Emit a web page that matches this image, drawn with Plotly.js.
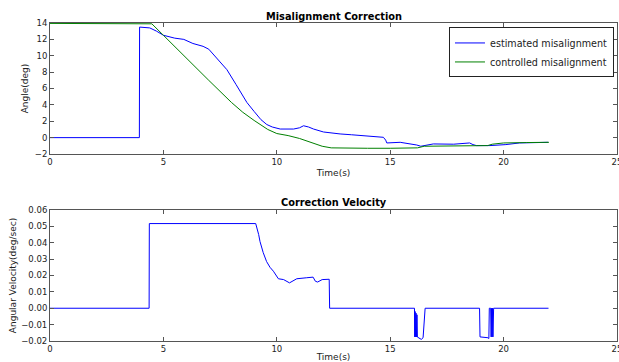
<!DOCTYPE html>
<html>
<head>
<meta charset="utf-8">
<script src="https://cdn.plot.ly/plotly-3.0.1.min.js"></script>
<style>html,body{margin:0;padding:0;background:#fff;}#chart{width:619px;height:362px;}</style>
</head>
<body>
<div id="chart"></div>
<script>
// Estimated misalignment (deg) vs time (s)
const estTime  = [0, 3.94, 3.95, 4.4, 4.7, 5.0, 5.5, 5.9, 6.3, 6.75, 7.0, 7.3, 7.8, 8.2, 8.68, 9.0, 9.3, 9.56, 9.8, 10.15, 10.5, 10.74, 11.0, 11.18, 11.4, 11.62, 12.06, 12.4, 12.79, 13.3, 13.82, 14.3, 14.7, 14.8, 14.85, 15.44, 15.8, 16.17, 16.35, 16.9, 17.8, 18.5, 18.65, 18.8, 19.4, 20.1, 20.7, 21.3, 21.96];
const estAngle = [0, 0, 13.5, 13.4, 13.0, 12.5, 12.15, 12.0, 11.5, 11.15, 10.8, 9.85, 8.3, 6.5, 4.3, 3.2, 2.2, 1.6, 1.3, 1.05, 1.05, 1.05, 1.2, 1.45, 1.3, 1.05, 0.69, 0.55, 0.45, 0.35, 0.24, 0.12, 0.04, -0.3, -0.65, -0.57, -0.72, -0.9, -1.05, -0.77, -0.8, -0.65, -0.85, -0.97, -0.97, -0.85, -0.65, -0.6, -0.57];

// Controlled misalignment (deg) vs time (s)
const ctrlTime  = [0, 2.0, 4.49, 5.0, 6.0, 7.0, 8.0, 8.5, 9.0, 9.3, 9.6, 10.0, 10.5, 11.0, 11.5, 12.0, 12.4, 13.0, 14.0, 15.0, 16.2, 16.5, 18.0, 19.3, 19.5, 20.0, 21.0, 22.0];
const ctrlAngle = [13.95, 13.9, 13.9, 12.5, 9.7, 7.0, 4.3, 3.1, 2.1, 1.5, 1.0, 0.5, 0.25, -0.1, -0.6, -1.05, -1.25, -1.3, -1.3, -1.3, -1.25, -1.05, -1.0, -0.97, -0.8, -0.65, -0.6, -0.57];

// Correction velocity (deg/sec) vs time (s)
const velTime  = [0, 4.37, 4.38, 9.07, 9.2, 9.26, 9.4, 9.55, 9.7, 9.85, 10.07, 10.3, 10.56, 10.88, 11.3, 11.6, 11.7, 11.8, 12.0, 12.25, 12.31, 12.33, 16.07, 16.08, 16.1, 16.12, 16.14, 16.16, 16.18, 16.2, 16.22, 16.37, 16.45, 16.54, 18.94, 18.96, 19.31, 19.35, 19.37, 19.43, 19.45, 19.47, 19.49, 19.51, 19.53, 19.56, 21.98];
const velValue = [0, 0, 0.0517, 0.0517, 0.045, 0.0407, 0.034, 0.0285, 0.025, 0.0226, 0.018, 0.0175, 0.0155, 0.018, 0.0186, 0.019, 0.0165, 0.016, 0.0175, 0.0177, 0.0177, 0, 0, -0.0175, -0.002, -0.0175, -0.003, -0.0175, -0.004, -0.0176, -0.0178, -0.019, -0.018, 0, 0, -0.0175, -0.018, -0.0185, 0, 0, -0.0175, 0, -0.0175, 0, -0.0175, 0, 0];

const legendNames = ['estimated misalignment', 'controlled misalignment'];
const titles = ['Misalignment Correction', 'Correction Velocity'];
const xTitle = 'Time(s)';
const yTitles = ['Angle(deg)', 'Angular Velocity(deg/sec)'];

const FONT = 'DejaVu Sans, sans-serif';
const axisLine = '#555';
const TICK = 8.5, LABEL = 9;

const traces = [
  {x: estTime, y: estAngle, type: 'scatter', mode: 'lines', name: legendNames[0],
   line: {color: '#0000ff', width: 1}, xaxis: 'x', yaxis: 'y'},
  {x: ctrlTime, y: ctrlAngle, type: 'scatter', mode: 'lines', name: legendNames[1],
   line: {color: '#008000', width: 1}, xaxis: 'x', yaxis: 'y'},
  {x: velTime, y: velValue, type: 'scatter', mode: 'lines', showlegend: false,
   line: {color: '#0000ff', width: 1}, xaxis: 'x2', yaxis: 'y2'}
];

function xax(anchor) {
  return {
    anchor: anchor, domain: [0, 1], range: [0, 25], tickmode: 'linear', tick0: 0, dtick: 5,
    ticks: 'inside', ticklen: 4, tickcolor: axisLine, showline: true, linecolor: axisLine, linewidth: 1,
    mirror: 'ticks', showgrid: false, zeroline: false, ticklabeloverflow: 'allow',
    tickfont: {family: FONT, size: TICK, color: '#222'},
    title: {text: xTitle, font: {family: FONT, size: LABEL, color: '#222'}, standoff: 3}
  };
}
function yax(anchor, domain, range, dtick, fmt, title, standoff) {
  return {
    anchor: anchor, domain: domain, range: range, tickmode: 'linear', tick0: range[0], dtick: dtick,
    tickformat: fmt, ticks: 'inside', ticklen: 4, tickcolor: axisLine, showline: true, linecolor: axisLine,
    linewidth: 1, mirror: 'ticks', showgrid: false, zeroline: false,
    tickfont: {family: FONT, size: TICK, color: '#222'},
    title: {text: title, font: {family: FONT, size: LABEL, color: '#222'}, standoff: standoff}
  };
}

const layout = {
  width: 619, height: 362,
  margin: {l: 50, r: 2, t: 23, b: 21},
  paper_bgcolor: '#fff', plot_bgcolor: '#fff',
  font: {family: FONT, size: TICK, color: '#222'},
  showlegend: true,
  legend: {x: 0.9947, y: 0.986, xanchor: 'right', yanchor: 'top', bgcolor: '#fff',
           bordercolor: '#222', borderwidth: 1, font: {family: FONT, size: 9.6, color: '#222'}},
  xaxis: xax('y'),
  yaxis: yax('x', [0.588, 1], [-2, 14], 2, 'd', yTitles[0], 4),
  xaxis2: xax('y2'),
  yaxis2: yax('x2', [0, 0.412], [-0.02, 0.06], 0.01, '.2f', yTitles[1], 3),
  annotations: [
    {text: '<b>' + titles[0] + '</b>', xref: 'paper', yref: 'paper', x: 0.5, y: 1.022,
     xanchor: 'center', yanchor: 'middle', showarrow: false, font: {family: FONT, size: 9.8, color: '#000'}},
    {text: '<b>' + titles[1] + '</b>', xref: 'paper', yref: 'paper', x: 0.5, y: 0.434,
     xanchor: 'center', yanchor: 'middle', showarrow: false, font: {family: FONT, size: 9.8, color: '#000'}}
  ]
};

Plotly.newPlot('chart', traces, layout, {staticPlot: true, displayModeBar: false});
</script>
</body>
</html>
